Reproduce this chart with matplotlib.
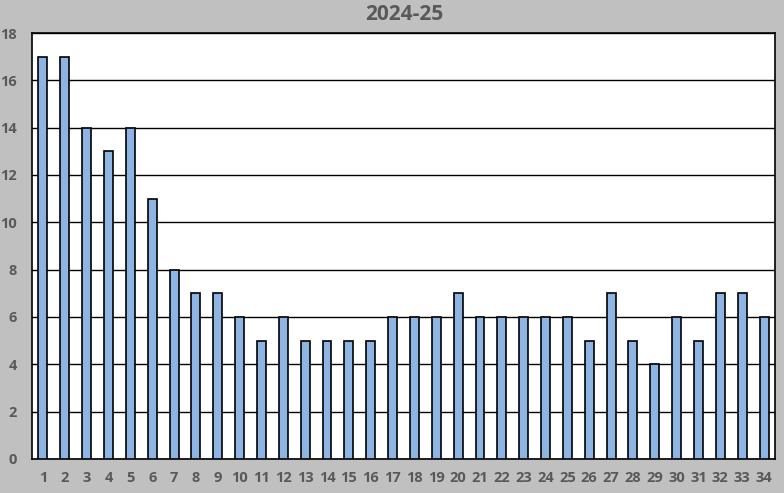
import matplotlib
matplotlib.use("Agg")
import matplotlib.pyplot as plt
import numpy as np

categories = [str(i) for i in range(1, 35)]
values = [17, 17, 14, 13, 14, 11, 8, 7, 7, 6, 5, 6, 5, 5, 5, 5, 6, 6, 6, 7,
          6, 6, 6, 6, 6, 5, 7, 5, 4, 6, 5, 7, 7, 6]
yticks = [0, 2, 4, 6, 8, 10, 12, 14, 16, 18]
title = "2024-25"

plt.rcParams['font.family'] = ['Open Sans', 'DejaVu Sans']
txt = '#595959'

fig = plt.figure(figsize=(7.84, 4.93), dpi=100, facecolor='#C0C0C0')
ax = fig.add_axes([32/784, 34/493, 743/784, 426/493])
ax.set_facecolor('white')
x = np.arange(len(categories))
ax.bar(x, values, width=0.41, color='#8DB4E2', edgecolor='black', linewidth=1.2, zorder=3)
ax.set_xlim(-0.5, len(categories) - 0.5)
ax.set_ylim(0, 18)
ax.set_yticks(yticks)
ax.set_xticks(x)
ax.set_xticklabels(categories)
ax.yaxis.grid(True, color='black', linewidth=1.0, zorder=0)
ax.set_axisbelow(True)
for s in ax.spines.values():
    s.set_color('black')
    s.set_linewidth(1.2)
ax.tick_params(axis='both', length=0, colors=txt, labelsize=10.5)
ax.tick_params(axis='x', pad=9)
ax.tick_params(axis='y', pad=11)
for lab in ax.get_xticklabels() + ax.get_yticklabels():
    lab.set_fontweight('bold')
fig.text(404/784, 1 - 14/493, title, ha='center', va='center', fontsize=15,
         fontweight='bold', color=txt)
fig.savefig('out.png', dpi=100, facecolor=fig.get_facecolor())
